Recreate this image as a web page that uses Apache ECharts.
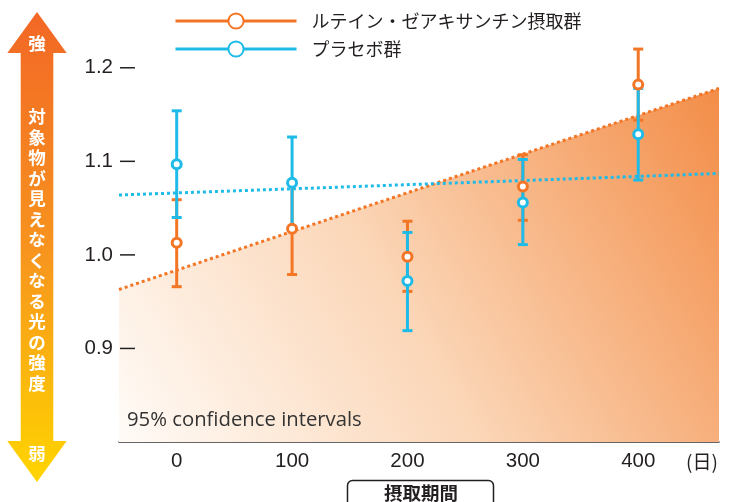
<!DOCTYPE html>
<html>
<head>
<meta charset="utf-8">
<script src="https://cdn.jsdelivr.net/npm/echarts@6/dist/echarts.min.js"></script>
<style>
html,body{margin:0;padding:0;background:#fff;}
#chart{width:729px;height:502px;}
</style>
</head>
<body>
<div id="chart"></div>
<script>
// ---- data ----
const days = [0, 100, 200, 300, 400];
const seriesNames = ['ルテイン・ゼアキサンチン摂取群', 'プラセボ群'];
const luteinMean = [1.013, 1.028, 0.998, 1.073, 1.182];
const luteinLow  = [0.966, 0.979, 0.961, 1.037, 1.144];
const luteinHigh = [1.059, 1.077, 1.036, 1.107, 1.220];
const placeboMean = [1.097, 1.077, 0.972, 1.056, 1.129];
const placeboLow  = [1.040, 1.028, 0.919, 1.011, 1.080];
const placeboHigh = [1.154, 1.126, 1.024, 1.102, 1.178];
// trend lines at the x-axis extent
const trendX = [-50, 470];
const luteinTrend = [0.963, 1.178];
const placeboTrend = [1.064, 1.087];
const xTickLabels = ['0', '100', '200', '300', '400'];
const yTickValues = [0.9, 1.0, 1.1, 1.2];
const yTickLabels = ['0.9', '1.0', '1.1', '1.2'];

const X_MIN = -50, X_MAX = 470, Y_MIN = 0.8, Y_MAX = 1.25;
const ORANGE = '#f37526';
const BLUE = '#1fbbe8';
const TEXT = '#231f20';
const NUM_FONT = '"Liberation Sans", Arial, sans-serif';
const JP_FONT = '"Noto Sans CJK JP", sans-serif';

function pairs(xs, ys){ return xs.map((x,i)=>[x, ys[i]]); }
function bars(xs, lo, hi){ return xs.map((x,i)=>[x, lo[i], hi[i]]); }

function errorRenderer(color){
  return function(params, api){
    const x = api.value(0);
    const top = api.coord([x, api.value(2)]);
    const bot = api.coord([x, api.value(1)]);
    const hw = 5;
    const st = {stroke: color, lineWidth: 3};
    return {
      type: 'group',
      children: [
        {type:'line', shape:{x1:top[0], y1:top[1], x2:bot[0], y2:bot[1]}, style: st},
        {type:'line', shape:{x1:top[0]-hw, y1:top[1], x2:top[0]+hw, y2:top[1]}, style: st},
        {type:'line', shape:{x1:bot[0]-hw, y1:bot[1], x2:bot[0]+hw, y2:bot[1]}, style: st}
      ]
    };
  };
}

function tickRenderer(params, api){
  const y = api.coord([api.value(0), api.value(1)])[1];
  const x0 = params.coordSys.x + 1;
  return {type:'line', shape:{x1:x0, y1:y, x2:x0+15, y2:y}, style:{stroke: TEXT, lineWidth: 1.5}};
}

const chart = echarts.init(document.getElementById('chart'), null, {renderer:'canvas'});

const arrowX = 37, shaftHW = 16.3, headHW = 29.7;
const arrowTop = 12, headBaseTop = 53, headBaseBot = 441, arrowBot = 482;

const option = {
  animation: false,
  backgroundColor: '#fff',
  grid: {left: 119, right: 10, top: 21, bottom: 60, containLabel: false},
  legend: {
    orient: 'vertical',
    left: 169, top: 7,
    itemWidth: 121, itemHeight: 19, itemGap: 10,
    data: seriesNames,
    lineStyle: {width: 3, opacity: 1},
    textStyle: {fontSize: 18, color: TEXT, fontFamily: JP_FONT, padding: [0,0,0,10]}
  },
  xAxis: {
    type: 'value', min: X_MIN, max: X_MAX, interval: 50,
    axisLine: {show: true, lineStyle: {color: '#333', width: 1.5}},
    axisTick: {show: false},
    splitLine: {show: false},
    axisLabel: {
      margin: 9, fontSize: 20.5, color: TEXT, fontFamily: NUM_FONT,
      formatter: function(v){
        const i = days.indexOf(Math.round(v));
        return (i >= 0 && Math.abs(v - days[i]) < 1e-6) ? xTickLabels[i] : '';
      }
    }
  },
  yAxis: {
    type: 'value', min: Y_MIN, max: Y_MAX, interval: 0.1,
    axisLine: {show: false},
    axisTick: {show: false},
    splitLine: {show: false},
    axisLabel: {
      margin: 6, fontSize: 20.5, color: TEXT, fontFamily: NUM_FONT,
      formatter: function(v){
        const i = yTickValues.findIndex(t => Math.abs(t - v) < 1e-6);
        return i >= 0 ? yTickLabels[i] : '';
      }
    }
  },
  graphic: [
    {
      type: 'polygon', z: 10,
      shape: {points: [
        [arrowX, arrowTop], [arrowX+headHW, headBaseTop], [arrowX+shaftHW, headBaseTop],
        [arrowX+shaftHW, headBaseBot], [arrowX+headHW, headBaseBot], [arrowX, arrowBot],
        [arrowX-headHW, headBaseBot], [arrowX-shaftHW, headBaseBot], [arrowX-shaftHW, headBaseTop],
        [arrowX-headHW, headBaseTop]
      ]},
      style: {fill: new echarts.graphic.LinearGradient(0,0,0,1,[
        {offset:0, color:'#f26726'}, {offset:0.5, color:'#f7931e'}, {offset:1, color:'#ffd500'}
      ])}
    },
    {type:'text', z: 11, x: arrowX, y: 43,
     style:{text:'強', fill:'#fff', font:'bold 17.5px "Noto Sans CJK JP"', textAlign:'center', textVerticalAlign:'middle'}},
    {type:'text', z: 11, x: arrowX, y: 453,
     style:{text:'弱', fill:'#fff', font:'bold 17.5px "Noto Sans CJK JP"', textAlign:'center', textVerticalAlign:'middle'}},
    {type:'text', z: 11, x: arrowX, y: 250,
     style:{text:'対象物が見えなくなる光の強度'.split('').join('\n'), fill:'#fff',
            font:'bold 17.5px "Noto Sans CJK JP"', lineHeight: 20.5, textAlign:'center', textVerticalAlign:'middle'}},
    {type:'text', z: 11, x: 127, y: 420,
     style:{text:'95% confidence intervals', fill:'#333', font:'20.3px "Open Sans"', textAlign:'left', textVerticalAlign:'middle'}},
    {type:'text', z: 11, x: 702, y: 462,
     style:{text:'(日)', fill:TEXT, font:'19px "Noto Sans CJK JP"', textAlign:'center', textVerticalAlign:'middle'}},
    {type:'rect', z: 11, shape:{x:347.5, y:480.5, width:146, height:34, r:5},
     style:{fill:'#fff', stroke:TEXT, lineWidth:1.5}},
    {type:'text', z: 12, x: 421, y: 493,
     style:{text:'摂取期間', fill:TEXT, font:'bold 18.5px "Noto Sans CJK JP"', textAlign:'center', textVerticalAlign:'middle'}}
  ],
  series: [
    {
      name: 'fill', type: 'line', z: 1, silent: true,
      data: pairs(trendX, luteinTrend), symbol: 'none',
      lineStyle: {opacity: 0},
      areaStyle: {origin: 'start', opacity: 1, color: new echarts.graphic.LinearGradient(0,1,1,0,[
        {offset:0, color:'#fffbf7'}, {offset:0.45, color:'#fbd6b7'}, {offset:1, color:'#f38d48'}
      ])}
    },
    {
      name: 'yTicks', type: 'custom', z: 2, silent: true,
      data: yTickValues.map(v => [X_MIN, v]),
      renderItem: tickRenderer
    },
    {
      name: 'luteinTrend', type: 'line', z: 2, silent: true,
      data: pairs(trendX, luteinTrend), symbol: 'none',
      lineStyle: {color: ORANGE, width: 3, type: 'dotted'}
    },
    {
      name: 'placeboTrend', type: 'line', z: 2, silent: true,
      data: pairs(trendX, placeboTrend), symbol: 'none',
      lineStyle: {color: BLUE, width: 3, type: 'dotted'}
    },
    {
      name: 'luteinErr', type: 'custom', z: 3, silent: true,
      data: bars(days, luteinLow, luteinHigh),
      renderItem: errorRenderer(ORANGE)
    },
    {
      name: 'placeboErr', type: 'custom', z: 4, silent: true,
      data: bars(days, placeboLow, placeboHigh),
      renderItem: errorRenderer(BLUE)
    },
    {
      name: seriesNames[0], type: 'line', z: 5,
      data: pairs(days, luteinMean),
      symbol: 'circle', symbolSize: 9,
      itemStyle: {color: '#fff', borderColor: ORANGE, borderWidth: 3},
      lineStyle: {color: ORANGE, width: 3, opacity: 0}
    },
    {
      name: seriesNames[1], type: 'line', z: 6,
      data: pairs(days, placeboMean),
      symbol: 'circle', symbolSize: 9,
      itemStyle: {color: '#fff', borderColor: BLUE, borderWidth: 3},
      lineStyle: {color: BLUE, width: 3, opacity: 0}
    }
  ]
};
chart.setOption(option);
</script>
</body>
</html>
